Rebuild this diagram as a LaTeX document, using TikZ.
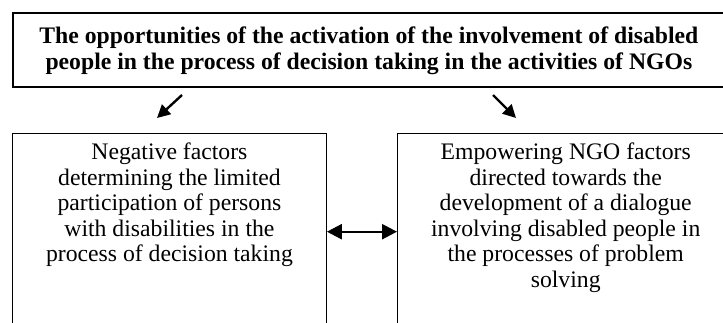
\documentclass[tikz,border=0pt]{standalone}
\usepackage{fontspec}
\setmainfont{Liberation Serif}
\usetikzlibrary{arrows.meta}
\begin{document}
\begin{tikzpicture}[x=1pt,y=-1pt,
  box/.style={draw, line width=1.4pt, inner sep=0pt, anchor=north west},
  bodytext/.style={anchor=north, inner xsep=0pt, inner ysep=10pt, align=center,
    font=\fontsize{23.7}{25.5}\selectfont},
  headtext/.style={anchor=north, inner xsep=0pt, inner ysep=14.5pt, align=center,
    font=\fontsize{23.7}{26}\selectfont\bfseries},
  arr/.style={line width=2.4pt, -{Triangle[length=13pt,width=13pt]}},
  darr/.style={line width=2.4pt, {Triangle[length=15pt,width=15pt]}-{Triangle[length=15pt,width=15pt]}}]
\useasboundingbox (0,0) rectangle (723,322);
\clip (0,0) rectangle (723,322);
\node[box, line width=1.8pt, minimum width=712pt, minimum height=74pt,
  label={[headtext]north:{The opportunities of the activation of the involvement of disabled\\
   people in the process of decision taking in the activities of NGOs}}] (top) at (12,12) {};
\node[box, minimum width=313.5pt, minimum height=196pt,
  label={[bodytext]north:{Negative factors\\ determining the limited\\ participation of persons\\ with disabilities in the\\ process of decision taking}}] (left) at (12,133) {};
\node[box, minimum width=336pt, minimum height=196pt,
  label={[bodytext]north:{Empowering NGO factors\\ directed towards the\\ development of a dialogue\\ involving disabled people in\\ the processes of problem\\ solving}}] (right) at (397,133) {};
\coordinate (a1s) at (182,95);
\coordinate (a1e) at (157,118);
\coordinate (a2s) at (493,95);
\coordinate (a2e) at (516,118);
\draw[arr] (a1s) -- (a1e);
\draw[arr] (a2s) -- (a2e);
\draw[darr] (left.east) -- (right.west);
\end{tikzpicture}
\end{document}
